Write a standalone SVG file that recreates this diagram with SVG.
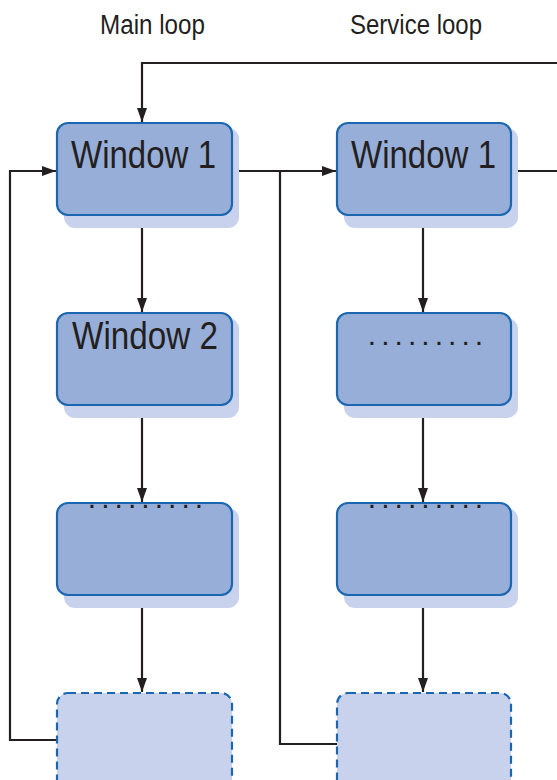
<svg xmlns="http://www.w3.org/2000/svg" width="557" height="780" viewBox="0 0 557 780">
  <style>
    .shadow { fill: #c8d2ec; }
    .box { fill: #97aed8; stroke: #1a66b0; stroke-width: 2.2; }
    .pending { fill: #c8d2ec; stroke: #1a66b0; stroke-width: 2.2; stroke-dasharray: 8 5; }
    .title { font-family: "Liberation Sans Narrow", "Liberation Sans", sans-serif; font-size: 27px; fill: #231f20; }
    .label { font-family: "Liberation Sans Narrow", "Liberation Sans", sans-serif; font-size: 39px; fill: #231f20; }
    .dots { font-family: "Liberation Sans", sans-serif; font-size: 30px; fill: #231f20; letter-spacing: 5.04px; }
    .wire { fill: none; stroke: #231f20; stroke-width: 2.2; }
  </style>
  <defs>
    <marker id="arrow" markerUnits="userSpaceOnUse" markerWidth="15" markerHeight="11" refX="14" refY="5.5" orient="auto">
      <path d="M0,0.5 L14,5.5 L0,10.5 Z" fill="#231f20"/>
    </marker>
  </defs>

  <rect width="557" height="780" fill="#ffffff"/>

  <!-- column headings -->
  <text class="title" x="100" y="34" textLength="105" lengthAdjust="spacingAndGlyphs">Main loop</text>
  <text class="title" x="350" y="34" textLength="132" lengthAdjust="spacingAndGlyphs">Service loop</text>

  <!-- connectors -->
  <g id="connectors">
    <path class="wire" d="M557,63 H142 V122" marker-end="url(#arrow)"/>
    <path class="wire" d="M57,740 H10 V171 H56" marker-end="url(#arrow)"/>
    <path class="wire" d="M239,171 H336" marker-end="url(#arrow)"/>
    <path class="wire" d="M280,171 V744 H337"/>
    <path class="wire" d="M518,171 H557"/>
    <path class="wire" d="M142,215 V312" marker-end="url(#arrow)"/>
    <path class="wire" d="M142,405 V502" marker-end="url(#arrow)"/>
    <path class="wire" d="M142,595 V692" marker-end="url(#arrow)"/>
    <path class="wire" d="M423,228 V312" marker-end="url(#arrow)"/>
    <path class="wire" d="M423,418 V502" marker-end="url(#arrow)"/>
    <path class="wire" d="M423,608 V692" marker-end="url(#arrow)"/>
  </g>

  <!-- main loop column -->
  <g id="main-window1">
    <rect class="shadow" x="64" y="128" width="175" height="100" rx="11"/>
    <rect class="box" x="57" y="123" width="175" height="92" rx="11"/>
    <text class="label" x="71" y="168" textLength="145" lengthAdjust="spacingAndGlyphs">Window 1</text>
  </g>
  <g id="main-window2">
    <rect class="shadow" x="64" y="318" width="175" height="100" rx="11"/>
    <rect class="box" x="57" y="313" width="175" height="92" rx="11"/>
    <text class="label" x="72" y="349" textLength="146" lengthAdjust="spacingAndGlyphs">Window 2</text>
  </g>
  <g id="main-window3">
    <rect class="shadow" x="64" y="508" width="175" height="100" rx="11"/>
    <rect class="box" x="57" y="503" width="175" height="92" rx="11"/>
    <text class="dots" x="87.8" y="507.5">.........</text>
  </g>
  <g id="main-window4">
    <rect class="pending" x="57" y="693" width="175" height="110" rx="11"/>
  </g>

  <!-- service loop column -->
  <g id="service-window1">
    <rect class="shadow" x="344" y="128" width="174" height="100" rx="11"/>
    <rect class="box" x="337" y="123" width="174" height="92" rx="11"/>
    <text class="label" x="351" y="168" textLength="145" lengthAdjust="spacingAndGlyphs">Window 1</text>
  </g>
  <g id="service-window2">
    <rect class="shadow" x="344" y="318" width="174" height="100" rx="11"/>
    <rect class="box" x="337" y="313" width="174" height="92" rx="11"/>
    <text class="dots" x="367.8" y="344.5">.........</text>
  </g>
  <g id="service-window3">
    <rect class="shadow" x="344" y="508" width="174" height="100" rx="11"/>
    <rect class="box" x="337" y="503" width="174" height="92" rx="11"/>
    <text class="dots" x="367.8" y="507.5">.........</text>
  </g>
  <g id="service-window4">
    <rect class="pending" x="337" y="693" width="174" height="110" rx="11"/>
  </g>
</svg>
